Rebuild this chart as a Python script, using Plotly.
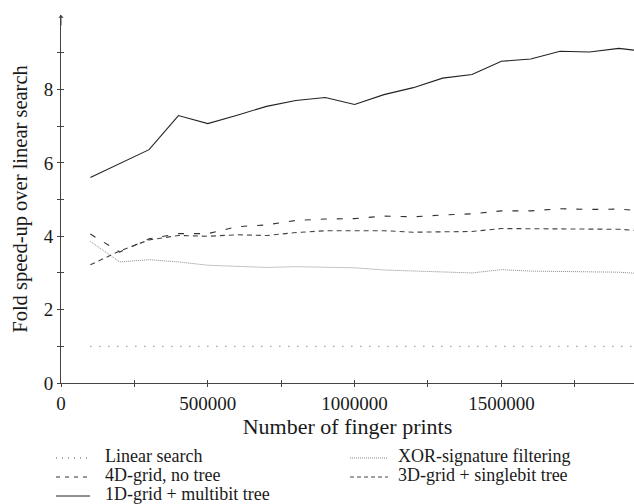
import plotly.graph_objects as go

# ---------------- data ----------------
n_prints = [100000, 200000, 300000, 400000, 500000, 600000, 700000, 800000, 900000, 1000000,
            1100000, 1200000, 1300000, 1400000, 1500000, 1600000, 1700000, 1800000, 1900000, 2000000]
linear_search = [1.0] * 20
xor_filter = [3.86, 3.30, 3.36, 3.30, 3.21, 3.17, 3.15, 3.17, 3.16, 3.14,
              3.08, 3.05, 3.01, 3.00, 3.09, 3.05, 3.04, 3.04, 3.02, 2.97]
grid4d_no_tree = [4.06, 3.57, 3.93, 4.07, 4.07, 4.26, 4.31, 4.43, 4.47, 4.48,
                  4.55, 4.53, 4.58, 4.61, 4.69, 4.69, 4.75, 4.73, 4.74, 4.68]
grid3d_singlebit = [3.22, 3.60, 3.90, 4.02, 4.00, 4.04, 4.02, 4.10, 4.15, 4.16,
                    4.15, 4.11, 4.12, 4.13, 4.21, 4.20, 4.19, 4.18, 4.19, 4.14]
grid1d_multibit = [5.60, 5.98, 6.36, 7.29, 7.07, 7.30, 7.54, 7.70, 7.78, 7.59,
                   7.86, 8.05, 8.31, 8.41, 8.77, 8.83, 9.04, 9.02, 9.12, 9.03]

series_names = ["Linear search", "XOR-signature filtering", "4D-grid, no tree",
                "3D-grid + singlebit tree", "1D-grid + multibit tree"]
series_values = [linear_search, xor_filter, grid4d_no_tree, grid3d_singlebit, grid1d_multibit]

x_tick_vals = [0, 500000, 1000000, 1500000]
x_tick_text = ["0", "500000", "1000000", "1500000"]
y_tick_vals = [0, 2, 4, 6, 8]
y_tick_text = ["0", "2", "4", "6", "8"]

# ---------------- styles ----------------
styles = [
    dict(color="#555555", width=1, dash="1px,8px"),
    dict(color="#8a8a8a", width=1, dash="1px,1px"),
    dict(color="#333333", width=1.1, dash="6px,10px"),
    dict(color="#444444", width=1.1, dash="5px,4px"),
    dict(color="#222222", width=1.1, dash="solid"),
]
legend_dash = ["1px,5px", "1px,1px", "4px,5px", "4px,3px", "solid"]

W, H = 634, 504
ML, MR, MT, MB = 61, 0, 15, 121
PW, PH = W - ML - MR, H - MT - MB
XMAX = 1951700
YMAX = 10.03
FONT = "Liberation Serif"

fig = go.Figure()
for name, vals, st in zip(series_names, series_values, styles):
    fig.add_trace(go.Scatter(x=n_prints, y=vals, mode="lines", name=name,
                             line=st, showlegend=False))

axis_common = dict(showgrid=False, zeroline=False, showline=True, linecolor="#444444",
                   linewidth=1, tickcolor="#444444", ticklen=3, tickwidth=1, automargin=False)

fig.update_layout(
    width=W, height=H,
    margin=dict(l=ML, r=MR, t=MT, b=MB, autoexpand=False),
    paper_bgcolor="white", plot_bgcolor="white",
    font=dict(family=FONT, size=19, color="#1a1a1a"),
    xaxis=dict(range=[0, XMAX], tickvals=x_tick_vals, ticktext=x_tick_text, ticks="outside",
               minor=dict(tickvals=[250000, 750000, 1250000, 1750000], ticks="outside",
                          ticklen=3, tickcolor="#444444"),
               title=dict(text="Number of finger prints", standoff=3, font=dict(size=22)),
               tickfont=dict(size=19), **axis_common),
    yaxis=dict(range=[0, YMAX], tickvals=y_tick_vals, ticktext=y_tick_text, ticks="outside",
               minor=dict(tickvals=[1, 3, 5, 7, 9], ticks="outside", ticklen=3, tickcolor="#444444"),
               title=dict(text="Fold speed-up over linear search", standoff=10, font=dict(size=20.5)),
               tickfont=dict(size=19), **axis_common),
    xaxis2=dict(overlaying="x", matches="x", range=[0, XMAX], side="bottom", showgrid=False,
                zeroline=False, showline=False, showticklabels=False, ticks="inside",
                tickvals=x_tick_vals + [250000, 750000, 1250000, 1750000],
                ticklen=3, tickcolor="#444444", automargin=False),
    yaxis2=dict(overlaying="y", range=[0, YMAX], side="left", showgrid=False, zeroline=False,
                showline=False, showticklabels=False, ticks="inside",
                tickvals=list(range(0, 10)), ticklen=3, tickcolor="#444444", automargin=False),
)
# invisible helper trace to activate the overlay axes
fig.add_trace(go.Scatter(x=[0], y=[0], xaxis="x2", yaxis="y2", mode="markers",
                         marker=dict(opacity=0), showlegend=False, hoverinfo="skip"))

# arrow on top of y axis
fig.add_annotation(x=0, y=YMAX, xref="x", yref="y", ax=0, ay=12, axref="pixel", ayref="pixel",
                   text="", showarrow=True, arrowhead=1, arrowsize=0.9, arrowwidth=1,
                   arrowcolor="#444444")

# ---------------- manual legend ----------------
def px_x(p):
    return (p - ML) / PW

def px_y(p):
    return (H - MB - p) / PH

legend_cols = [(56, 90, 104), (350, 388, 397)]
legend_rows = [456, 475, 494]
positions = [(0, 0), (1, 0), (0, 1), (1, 1), (0, 2)]
for (c, r), name, st, ld in zip(positions, series_names, styles, legend_dash):
    x0, x1, xt = legend_cols[c]
    yy = legend_rows[r]
    fig.add_shape(type="line", xref="paper", yref="paper",
                  x0=px_x(x0), x1=px_x(x1), y0=px_y(yy + 2), y1=px_y(yy + 2),
                  line=dict(color=st["color"], width=1, dash=ld))
    fig.add_annotation(xref="paper", yref="paper", x=px_x(xt), y=px_y(yy),
                       text=name, showarrow=False, xanchor="left", yanchor="middle",
                       borderpad=0, font=dict(size=18, family=FONT, color="#1a1a1a"))

fig.write_html("out.html", config={"displayModeBar": False},
               post_script="document.body.style.margin='0';")
